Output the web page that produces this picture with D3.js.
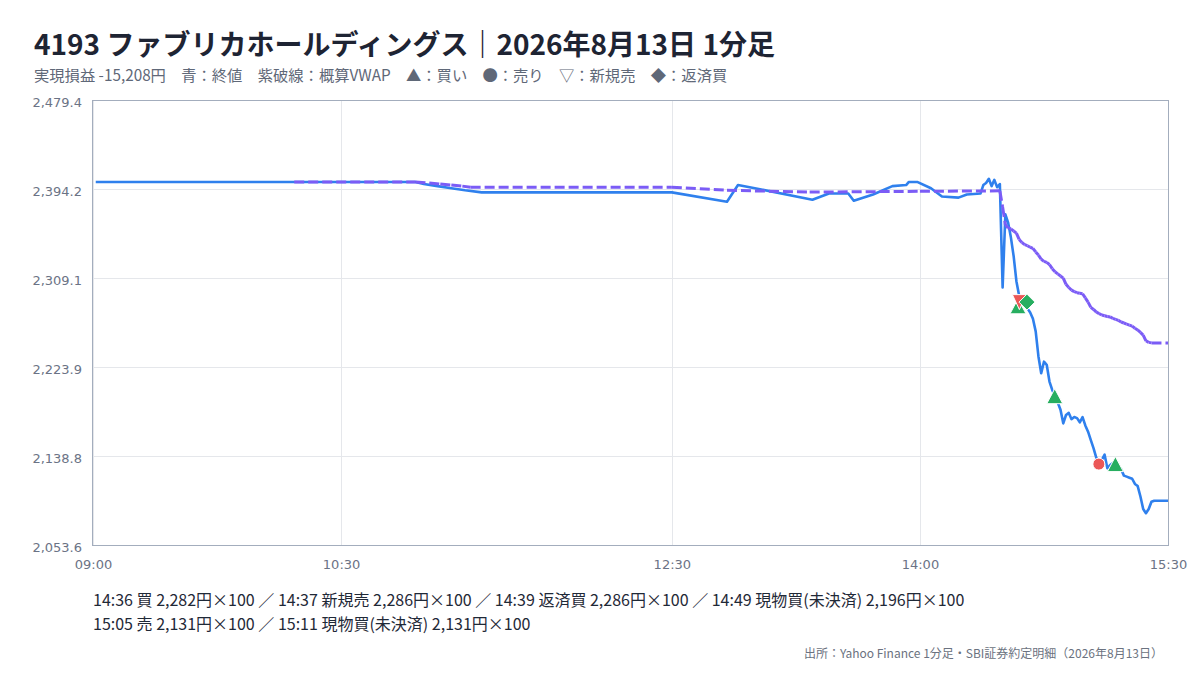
<!DOCTYPE html>
<html lang="ja">
<head>
<meta charset="utf-8">
<title>4193 ファブリカホールディングス 1分足</title>
<script src="https://cdn.jsdelivr.net/npm/d3@7"></script>
<style>
  body { margin: 0; background: #fff; }
  svg { display: block; font-family: "Noto Sans CJK JP", "Noto Sans", sans-serif; }
  .axis text { font-family: "DejaVu Sans", sans-serif; font-size: 13px; fill: #6b7385; }
</style>
</head>
<body>
<svg id="chart" width="1200" height="680"></svg>
<script>
// 終値（1分足、読み取り値）
const priceTimes = [
    "09:01", "10:57", "11:00", "11:05", "11:10", "11:15", "11:21", "11:30",
    "12:30", "12:50", "12:54", "13:02", "13:21", "13:27", "13:34", "13:36",
    "13:43", "13:50", "13:55", "13:56", "13:59", "14:04", "14:08", "14:14",
    "14:17", "14:22", "14:23", "14:24", "14:25", "14:26", "14:27", "14:28",
    "14:29", "14:30", "14:31", "14:32", "14:33", "14:34", "14:35", "14:36",
    "14:37", "14:38", "14:39", "14:40", "14:41", "14:42", "14:43", "14:44",
    "14:45", "14:46", "14:47", "14:48", "14:49", "14:50", "14:51", "14:52",
    "14:53", "14:54", "14:55", "14:56", "14:57", "14:58", "14:59", "15:00",
    "15:01", "15:02", "15:03", "15:04", "15:05", "15:06", "15:07", "15:08",
    "15:09", "15:10", "15:11", "15:12", "15:13", "15:14", "15:15", "15:16",
    "15:17", "15:18", "15:19", "15:20", "15:21", "15:22", "15:23", "15:24",
    "15:25", "15:30"
]
const priceValues = [
    2401, 2401, 2399, 2397, 2395, 2393, 2391, 2391,
    2391, 2382, 2398, 2394, 2384, 2390, 2390, 2383,
    2389, 2397, 2398, 2401, 2401, 2395, 2387, 2386,
    2389, 2390, 2398, 2400, 2404, 2397, 2403, 2396,
    2399, 2300, 2370, 2362, 2348, 2330, 2306, 2292,
    2288, 2284, 2280, 2276, 2270, 2258, 2234, 2218,
    2229, 2226, 2210, 2202, 2196, 2190, 2183, 2170,
    2178, 2180, 2174, 2176, 2175, 2171, 2176, 2168,
    2162, 2154, 2146, 2137, 2131, 2135, 2140, 2127,
    2130, 2132, 2131, 2128, 2126, 2120, 2119, 2118,
    2117, 2112, 2110, 2100, 2088, 2084, 2088, 2095,
    2096, 2096
]

// 概算VWAP
const vwapTimes = [
    "10:13", "10:57", "11:02", "11:06", "11:10", "11:14", "11:17", "12:30",
    "12:50", "13:20", "14:00", "14:29", "14:30", "14:31", "14:32", "14:33",
    "14:34", "14:35", "14:36", "14:37", "14:38", "14:39", "14:40", "14:41",
    "14:42", "14:43", "14:44", "14:45", "14:46", "14:47", "14:48", "14:49",
    "14:50", "14:51", "14:52", "14:53", "14:54", "14:55", "14:56", "14:57",
    "14:58", "14:59", "15:00", "15:01", "15:02", "15:03", "15:04", "15:05",
    "15:06", "15:07", "15:08", "15:09", "15:10", "15:11", "15:12", "15:13",
    "15:14", "15:15", "15:16", "15:17", "15:18", "15:19", "15:20", "15:21",
    "15:22", "15:23", "15:24", "15:30"
]
const vwapValues = [
    2401, 2401, 2400, 2399, 2398, 2397, 2396, 2396,
    2393, 2391.3, 2392, 2392.5, 2377, 2360, 2357, 2356,
    2354, 2352, 2346, 2343, 2341, 2340, 2338.5, 2337.5,
    2334, 2331, 2327, 2325, 2324, 2322, 2318, 2315,
    2313, 2311, 2309, 2303, 2300, 2297.5, 2296, 2295,
    2294.5, 2294, 2290, 2286, 2281, 2279, 2276.5, 2275,
    2273.7, 2273, 2272.3, 2271.8, 2270.5, 2269.5, 2268.5, 2267,
    2266, 2265, 2264, 2263, 2261, 2259.4, 2257, 2254.5,
    2249, 2247.5, 2247, 2247
]

// 約定（表示は分、マーカー位置は秒まで）
const tradeTimes = ["14:36", "14:37", "14:39", "14:49", "15:05", "15:11"]
const tradeStamps = ["14:35:35", "14:36:05", "14:38:50", "14:48:55", "15:04:55", "15:10:55"]
const tradeLabels = ["買", "新規売", "返済買", "現物買(未決済)", "売", "現物買(未決済)"]
const tradePrices = [2282, 2286, 2286, 2196, 2131, 2131]
const tradeQty = [100, 100, 100, 100, 100, 100]
const tradeMarks = ["buy", "short", "cover", "buy", "sell", "buy"]

const xTickLabels = ["09:00", "10:30", "12:30", "14:00", "15:30"]
const yTickValues = [2053.6, 2138.76, 2223.92, 2309.08, 2394.24, 2479.4]
const xDomain = ["09:00", "15:30"]
const yDomain = [2053.6, 2479.4]
const realizedPnl = -15208

const svgWidth = 1200
const svgHeight = 680
const margins = { top: 100, right: 32, bottom: 135, left: 93 }
const plotWidth = svgWidth - margins.left - margins.right
const plotHeight = svgHeight - margins.top - margins.bottom

const colors = {
    price: "#2f80ed",
    vwap: "#7b5cf6",
    buy: "#27ae60",
    sell: "#eb5757",
    grid: "#e5e7eb",
    frame: "#a3adbd"
}

const locale = d3.formatLocale({ decimal: ".", thousands: ",", grouping: [3], currency: ["", ""], minus: "-" })
const fmtInt = locale.format(",")
const fmtTick = locale.format(",.1f")
const parseTime = d3.timeParse("%H:%M")
const parseStamp = d3.timeParse("%H:%M:%S")

const svg = d3.select("#chart")

const xScale = d3.scaleTime()
    .domain(xDomain.map(parseTime))
    .range([margins.left, margins.left + plotWidth])
const yScale = d3.scaleLinear()
    .domain(yDomain)
    .range([margins.top + plotHeight, margins.top])

// タイトル
svg.append("text")
    .attr("x", 34)
    .attr("y", 55)
    .attr("font-size", 28)
    .attr("font-weight", "bold")
    .attr("fill", "#1e2433")
    .text("4193 ファブリカホールディングス｜2026年8月13日 1分足")

svg.append("text")
    .attr("x", 34)
    .attr("y", 81)
    .attr("font-size", 15.3)
    .attr("fill", "#5f6878")
    .text(`実現損益 ${fmtInt(realizedPnl)}円　青：終値　紫破線：概算VWAP　▲：買い　●：売り　▽：新規売　◆：返済買`)

// グリッド
const gridGroup = svg.append("g")
gridGroup.selectAll(".hgrid")
    .data(yTickValues)
    .enter()
    .append("line")
    .attr("x1", margins.left)
    .attr("x2", margins.left + plotWidth)
    .attr("y1", (d) => Math.round(yScale(d)) + 0.5)
    .attr("y2", (d) => Math.round(yScale(d)) + 0.5)
    .attr("stroke", colors.grid)
gridGroup.selectAll(".vgrid")
    .data(xTickLabels)
    .enter()
    .append("line")
    .attr("x1", (d) => Math.round(xScale(parseTime(d))) + 0.5)
    .attr("x2", (d) => Math.round(xScale(parseTime(d))) + 0.5)
    .attr("y1", margins.top)
    .attr("y2", margins.top + plotHeight)
    .attr("stroke", colors.grid)

// 軸
svg.append("g")
    .attr("class", "axis")
    .attr("transform", `translate(0,${margins.top + plotHeight})`)
    .call(d3.axisBottom(xScale)
        .tickValues(xTickLabels.map(parseTime))
        .tickFormat(d3.timeFormat("%H:%M"))
        .tickSize(0)
        .tickPadding(15))
    .call((g) => g.select(".domain").remove())

svg.append("g")
    .attr("class", "axis")
    .attr("transform", `translate(${margins.left},2.5)`)
    .call(d3.axisLeft(yScale)
        .tickValues(yTickValues)
        .tickFormat(fmtTick)
        .tickSize(0)
        .tickPadding(11))
    .call((g) => g.select(".domain").remove())

svg.append("rect")
    .attr("x", margins.left - 0.5)
    .attr("y", margins.top + 0.5)
    .attr("width", plotWidth + 1)
    .attr("height", plotHeight)
    .attr("fill", "none")
    .attr("stroke", colors.frame)

// 終値ライン
const pricePoints = priceTimes.map((t, i) => ({ time: parseTime(t), value: priceValues[i] }))
svg.append("path")
    .datum(pricePoints)
    .attr("fill", "none")
    .attr("stroke", colors.price)
    .attr("stroke-width", 2.6)
    .attr("stroke-linejoin", "round")
    .attr("d", d3.line()
        .x((d) => xScale(d.time))
        .y((d) => yScale(d.value)))

// VWAP（区間ごとに破線）
const vwapPoints = vwapTimes.map((t, i) => ({ time: parseTime(t), value: vwapValues[i] }))
svg.append("g")
    .selectAll(".vwap")
    .data(d3.pairs(vwapPoints))
    .enter()
    .append("line")
    .attr("x1", (d) => xScale(d[0].time))
    .attr("y1", (d) => yScale(d[0].value))
    .attr("x2", (d) => xScale(d[1].time))
    .attr("y2", (d) => yScale(d[1].value))
    .attr("stroke", colors.vwap)
    .attr("stroke-width", 3)
    .attr("stroke-dasharray", "10,4")

// 約定マーカー
const markShapes = {
    buy: "M-8,7.5L0,-7.5L8,7.5Z",
    short: "M-7,-7.5L7,-7.5L0,7.5Z",
    cover: "M0,-8L8,0L0,8L-8,0Z",
    sell: d3.symbol().type(d3.symbolCircle).size(Math.PI * 36)()
}
const markColors = { buy: colors.buy, short: colors.sell, cover: colors.buy, sell: colors.sell }

svg.append("g")
    .selectAll(".trade")
    .data(tradeStamps)
    .enter()
    .append("path")
    .attr("transform", (d, i) => `translate(${xScale(parseStamp(d))},${yScale(tradePrices[i])})`)
    .attr("d", (d, i) => markShapes[tradeMarks[i]])
    .attr("fill", (d, i) => markColors[tradeMarks[i]])
    .attr("stroke", "#fff")
    .attr("stroke-width", 1)

// 約定一覧
const tradeTexts = tradeTimes.map((t, i) => `${t} ${tradeLabels[i]} ${fmtInt(tradePrices[i])}円×${tradeQty[i]}`)
const tradeLines = [tradeTexts.slice(0, 4), tradeTexts.slice(4)]
svg.append("g")
    .selectAll("text")
    .data(tradeLines)
    .enter()
    .append("text")
    .attr("x", margins.left)
    .attr("y", (d, i) => 606 + i * 24)
    .attr("font-size", 16)
    .attr("fill", "#1f2937")
    .text((d) => d.join(" ／ "))

svg.append("text")
    .attr("x", 1163)
    .attr("y", 658)
    .attr("text-anchor", "end")
    .attr("font-size", 12)
    .attr("fill", "#6b7280")
    .text("出所：Yahoo Finance 1分足・SBI証券約定明細（2026年8月13日）")
</script>
</body>
</html>
